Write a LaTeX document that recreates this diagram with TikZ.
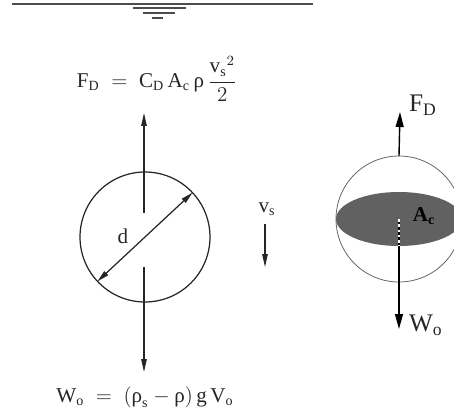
\documentclass[tikz,border=0pt]{standalone}
\usepackage{amsmath}
\usepackage{fontspec}
\setmainfont{Liberation Serif}
\usetikzlibrary{arrows.meta}

\begin{document}
\begin{tikzpicture}[
x=0.02cm,
y=0.02cm,
every node/.style={outer sep=0pt,text=black!85},
formula/.style={font=\large,inner sep=0pt},
forcelabel/.style={font=\Large,inner sep=0pt,anchor=west},
ball/.style={circle,draw=black!85,line width=0.7pt,minimum size=2.6cm,inner sep=0pt},
globe/.style={circle,draw=black!60,line width=0.45pt,minimum size=2.52cm,inner sep=0pt},
surface/.style={line width=0.9pt,draw=black!70},
force/.style={-{Triangle[length=2.6mm,width=1.1mm]},line width=0.6pt,draw=black!85},
bigforce/.style={-{Triangle[length=3mm,width=1.6mm]},line width=0.8pt,draw=black},
diam/.style={{Triangle[length=2.4mm,width=1.1mm]}-{Triangle[length=2.4mm,width=1.1mm]},line width=0.7pt,draw=black!85}
]

\clip (0,0) rectangle (454,417);
\fill[white] (0,0) rectangle (454,417);

\draw[surface] (12,413) -- (313,413);
\draw[surface,line width=0.7pt] (133,409) -- (186,409);
\draw[surface,line width=0.7pt] (143,404) -- (175,404);
\draw[surface,line width=0.7pt] (152,399) -- (163,399);

\node[formula] (drag) at (157,338) {$\text{F}_{\text{D}} \;=\; \text{C}_{\text{D}}\,\text{A}_{\text{c}}\,\text{ρ}\,\dfrac{{\text{v}_{\text{s}}}^{2}}{2}$};
\node[formula] (weight) at (145,20) {$\text{W}_{\text{o}} \;=\; (\text{ρ}_{\text{s}}-\text{ρ})\,\text{g}\,\text{V}_{\text{o}}$};

\node[ball] (sphere) at (145,180) {};
\node[formula] (dlabel) at (123,181) {d};
\coordinate (upstart) at (144,204);
\coordinate (uptip) at (144,304);
\coordinate (downstart) at (144,150);
\coordinate (downtip) at (144,45);
\draw[force] (upstart) -- (uptip);
\draw[force] (downstart) -- (downtip);
\draw[diam] (sphere.223) -- (sphere.43);

\node[formula] (vlabel) at (267,208) {$\text{v}_{\text{s}}$};
\coordinate (vstart) at (265,193);
\coordinate (vtip) at (265,150);
\draw[force] (vstart) -- (vtip);

\node[globe] (globe) at (399,198) {};
\begin{scope}
\clip (globe.center) circle (63);
\fill[black!62] (globe.center) ellipse [x radius=63,y radius=27];
\end{scope}
\node[font=\large\bfseries,text=black,inner sep=0pt] (area) at (424,201) {A\textsubscript{c}};
\coordinate (fdtip) at (400,305);
\coordinate (wotip) at (399,88);
\draw[bigforce] (globe.north) -- (fdtip);
\draw[bigforce] (globe.center) -- (wotip);
\draw[white,line width=0.8pt,dash pattern=on 1.5pt off 1.5pt] (globe.center) -- ++(0,-27);
\node[forcelabel] (fdlabel) at (409,312) {F\textsubscript{D}};
\node[forcelabel] (wolabel) at (409,92) {W\textsubscript{o}};

\end{tikzpicture}
\end{document}
